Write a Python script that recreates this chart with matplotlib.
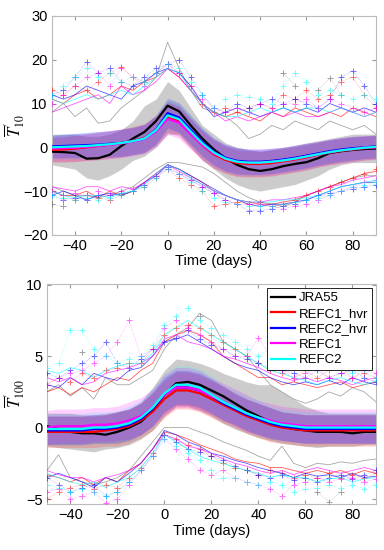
import numpy as np
import matplotlib
matplotlib.use("Agg")
import matplotlib.pyplot as plt

plt.rcParams['font.family'] = ['Liberation Sans', 'DejaVu Sans']
plt.rcParams['mathtext.fontset'] = 'stix'

nan = np.nan
days = list(range(-50, 91, 5))

series_names = ['JRA55', 'REFC1_hvr', 'REFC2_hvr', 'REFC1', 'REFC2']
series_colors = ['#000000', '#ff0000', '#0000ff', '#ff00ff', '#00ffff']
xticks = [-40, -20, 0, 20, 40, 60, 80]

# ---------------- Top panel: T'_10 ----------------
t10_mean = {
    'JRA55':     [-1.0,-1.1,-1.3,-2.6,-2.5,-1.7,0.3,2.0,3.5,6.0,9.5,8.2,5.0,2.0,-0.5,-2.5,-4.0,-5.0,-5.4,-5.0,-4.3,-3.8,-3.4,-2.5,-1.3,-0.9,-0.6,-0.4,-0.3],
    'REFC1_hvr': [-0.6,-0.5,-0.3,0.0,0.3,0.6,1.0,1.5,2.1,3.9,7.0,6.0,3.2,0.5,-1.6,-2.9,-3.6,-3.8,-3.8,-3.6,-3.2,-2.8,-2.3,-1.7,-1.2,-0.8,-0.5,-0.2,0.0],
    'REFC2_hvr': [0.2,0.3,0.4,0.5,0.6,0.8,1.0,1.4,2.0,4.0,7.8,6.8,4.0,1.2,-1.0,-2.4,-3.1,-3.3,-3.3,-3.1,-2.8,-2.4,-1.9,-1.4,-0.9,-0.5,-0.2,0.0,0.2],
    'REFC1':     [-0.3,-0.2,-0.1,0.1,0.3,0.6,0.9,1.3,1.9,3.6,6.5,5.6,3.0,0.5,-1.4,-2.6,-3.3,-3.5,-3.5,-3.3,-3.0,-2.6,-2.1,-1.6,-1.1,-0.7,-0.4,-0.1,0.0],
    'REFC2':     [0.0,0.1,0.2,0.3,0.5,0.7,1.0,1.4,2.0,3.9,7.3,6.4,3.6,0.9,-1.2,-2.6,-3.3,-3.5,-3.5,-3.3,-3.0,-2.6,-2.1,-1.6,-1.1,-0.7,-0.4,-0.1,0.1],
}
t10_jra_hi = [3,3,3,2.5,2.5,3,4,6,9.5,11,15,13,9,5,3,1,0,-0.5,-1,-0.5,0,0.5,1,1.5,2,2.5,3,3,3]
t10_jra_lo = [-4,-4.5,-5,-7,-7.5,-6.5,-5,-3,-2,0,3,3,0,-3,-5,-7,-8.5,-9.5,-10,-9.5,-9,-8.5,-7.5,-6.5,-5,-4,-3.5,-3.5,-3.5]
t10_spread = {
    'REFC1_hvr': [2.8,2.9,3.0,3.0,3.1,3.1,3.2,3.2,3.3,3.4,3.5,3.5,3.4,3.3,3.2,3.1,3.1,3.0,3.0,3.0,2.9,2.9,2.9,2.8,2.8,2.8,2.8,2.7,2.7],
    'REFC2_hvr': [2.6,2.7,2.8,2.9,3.0,3.0,3.1,3.1,3.2,3.3,3.4,3.4,3.3,3.2,3.1,3.0,3.0,2.9,2.9,2.9,2.8,2.8,2.8,2.7,2.7,2.7,2.7,2.6,2.6],
    'REFC1':     [2.9,3.0,3.1,3.1,3.2,3.2,3.3,3.3,3.4,3.5,3.6,3.6,3.5,3.4,3.3,3.2,3.2,3.1,3.1,3.1,3.0,3.0,3.0,2.9,2.9,2.9,2.9,2.8,2.8],
    'REFC2':     [2.7,2.8,2.9,2.9,3.0,3.0,3.1,3.1,3.2,3.3,3.4,3.4,3.3,3.2,3.1,3.0,3.0,2.9,2.9,2.9,2.8,2.8,2.8,2.7,2.7,2.7,2.7,2.6,2.6],
}
t10_upper_line = {
    'JRA55':     [8,10,7,9,5.5,6,9,11,13,16,24,18,13,9,8,7,5,2,3,5,4,6,5,4,6,5,4,5,3],
    'REFC1_hvr': [11,10,12,13,11,12,14,13,15,16,18,16,13,10,8,7,8,7,6,8,7,9,8,7,8,7,9,8,7],
    'REFC2_hvr': [12,11,12,14,13,12,11,14,15,17,18,17,14,10,7,8,9,8,7,8,9,8,9,8,10,9,8,9,8],
    'REFC1':     [8,9,10,11,12,10,14,12,13,15,18,16,13,10,8,6,7,6,7,8,7,8,7,7,8,9,8,7,8],
    'REFC2':     [11,10,11,12,11,12,13,12,14,16,18,17,13,10,8,7,7,8,9,8,9,8,9,9,8,9,8,7,8],
}
t10_upper_plus = {
    'JRA55':     [nan,nan,nan,nan,nan,nan,nan,nan,nan,nan,nan,nan,nan,nan,nan,nan,nan,nan,nan,nan,17,14,nan,13,15.8,12,nan,nan,nan],
    'REFC1_hvr': [13,12,14,13,15,17,18.4,16,15,17,19,17,14,10,8,9,8,9,10,9,12,11,13,11,12,15,16,12,9],
    'REFC2_hvr': [12,13,16,19.5,17,18,15,14,16,18,19,20,16,12,9,8,10,9,10,11,10,11,10,9,11,16,17.5,14,10],
    'REFC1':     [10,12,14,16,17,14,18,16,14,17,19,17,14,11,9,8,9,8,10,9,10,10,11,9,11,10,9,8,9],
    'REFC2':     [12,14,16,18,16,17,15,16,15,17,19,18,15,12,9,11,12,11.5,11,10,14,17,15,12,13,12,11,12,11],
}
t10_lower_line = {
    'JRA55':     [-9,-10,-11,-11,-11.5,-11,-10,-9,-7,-5,-3.5,-3.5,-4,-4.5,-6,-8,-10,-11.5,-12.5,-13,-13.5,-12.5,-11,-10,-9,-8,-7,-6.5,-6.5],
    'REFC1_hvr': [-10,-11,-11,-10,-11.5,-10,-11,-10,-8,-6,-4,-5,-6.5,-8,-10,-11,-12,-12.5,-13,-13,-12.5,-12,-11,-10,-9,-8,-7,-6,-5.5],
    'REFC2_hvr': [-11,-10,-11,-12,-11,-10.5,-11,-10,-8,-6.5,-4,-5,-6.5,-8,-9.5,-11,-12,-13,-13.5,-13,-13,-12.5,-12,-11,-10,-9,-8.5,-8,-8],
    'REFC1':     [-9,-9.5,-10,-9,-9,-10,-9,-9.5,-8,-6,-4,-5.5,-7,-8.5,-10,-11,-12,-12.5,-12.5,-12,-12,-11.5,-11,-10,-9,-8.5,-7.5,-7,-6.5],
    'REFC2':     [-10,-11,-11.5,-11,-11,-11.5,-10.5,-10,-8.5,-6,-4,-5,-7,-8.5,-10,-11,-12,-12.5,-12.5,-12.5,-12,-12,-11.5,-11,-10,-9,-8.5,-8,-7.5],
}
t10_lower_plus = {
    'JRA55':     [-13,-13.5,nan,nan,nan,nan,nan,nan,nan,nan,nan,nan,nan,nan,nan,nan,nan,nan,nan,nan,nan,nan,nan,nan,nan,nan,nan,nan,nan],
    'REFC1_hvr': [-10,-11,-12,-11,-11.5,-12,-11,-10,-9,-7,-5,-7,-8.5,-10,-13.5,-13,-12.5,-13,-12.5,-13.5,-13,-12,-11,-10,-9,-8,-7,-6,-5],
    'REFC2_hvr': [-11,-12,-11.5,-12,-11,-11,-10.5,-10,-8.5,-6.5,-4.5,-6,-7.5,-9,-10.5,-12,-13,-14.5,-14.5,-14,-13.5,-13,-12,-11,-10.5,-10,-9.5,-9,-8.5],
    'REFC1':     [-10,-11,-10.5,-11,-10,-11,-10,-9.5,-8.5,-6.5,-5,-6,-7.5,-9,-10.5,-12,-13,-13,-13,-13.5,-14,-13.5,-13,-12,-11,-10,-9,-8,-7.5],
    'REFC2':     [-11,-11.5,-12,-11.5,-12,-11.5,-11,-10,-9,-7,-5,-6,-8,-10,-11.5,-12.5,-13,-13.5,-13.5,-13.5,-13,-12.5,-12,-11.5,-11,-10,-9,-8.5,-8],
}

# ---------------- Bottom panel: T'_100 ----------------
t100_mean = {
    'JRA55':     [0.1,-0.1,-0.3,-0.4,-0.4,-0.5,-0.3,0.0,0.4,1.2,2.3,3.1,3.2,3.0,2.6,2.2,1.7,1.2,0.8,0.4,0.1,-0.1,-0.2,-0.3,-0.3,-0.3,-0.4,-0.3,-0.3],
    'REFC1_hvr': [-0.3,-0.3,-0.3,-0.3,-0.3,-0.2,-0.1,0.1,0.5,1.1,2.0,2.6,2.6,2.4,2.0,1.6,1.2,0.8,0.5,0.2,0.0,-0.1,-0.2,-0.2,-0.2,-0.2,-0.2,-0.2,-0.2],
    'REFC2_hvr': [-0.2,-0.2,-0.2,-0.2,-0.1,-0.1,0.0,0.2,0.6,1.3,2.3,2.8,2.8,2.6,2.2,1.7,1.3,0.9,0.6,0.3,0.1,0.0,-0.1,-0.1,-0.1,-0.1,-0.1,-0.1,-0.1],
    'REFC1':     [0.0,0.1,0.1,0.1,0.2,0.2,0.3,0.5,0.8,1.4,2.3,2.8,2.8,2.6,2.2,1.8,1.4,1.0,0.7,0.5,0.3,0.2,0.1,0.1,0.1,0.1,0.1,0.1,0.1],
    'REFC2':     [-0.1,-0.1,-0.1,-0.1,0.0,0.0,0.1,0.3,0.7,1.4,2.4,3.0,3.0,2.8,2.3,1.8,1.4,1.0,0.7,0.4,0.2,0.1,0.0,0.0,0.0,0.0,0.0,0.0,0.0],
}
t100_jra_hi = [1.0,1.0,1.0,0.9,0.9,1.0,1.1,1.3,1.8,2.8,4.0,4.8,4.7,4.5,4.2,3.8,3.5,3.2,3.0,3.0,2.5,2.0,1.5,1.2,1.0,1.0,1.0,1.0,1.0]
t100_jra_lo = [-1.3,-1.4,-1.5,-1.6,-1.7,-1.5,-1.4,-1.2,-0.8,-0.2,0.8,1.5,1.5,1.2,0.8,0.3,-0.1,-0.4,-0.7,-0.9,-1.1,-1.2,-1.3,-1.4,-1.3,-1.3,-1.3,-1.2,-1.2]
t100_spread = {
    'REFC1_hvr': [1.1,1.1,1.1,1.1,1.1,1.1,1.2,1.2,1.2,1.3,1.3,1.3,1.3,1.3,1.3,1.3,1.2,1.2,1.2,1.2,1.1,1.1,1.1,1.1,1.1,1.1,1.1,1.1,1.1],
    'REFC2_hvr': [1.0,1.0,1.0,1.0,1.0,1.0,1.1,1.1,1.1,1.2,1.2,1.2,1.2,1.2,1.2,1.2,1.1,1.1,1.1,1.1,1.0,1.0,1.0,1.0,1.0,1.0,1.0,1.0,1.0],
    'REFC1':     [1.2,1.2,1.2,1.2,1.2,1.2,1.2,1.3,1.3,1.3,1.4,1.4,1.4,1.4,1.3,1.3,1.3,1.3,1.2,1.2,1.2,1.2,1.2,1.2,1.2,1.2,1.2,1.2,1.2],
    'REFC2':     [1.1,1.1,1.1,1.1,1.1,1.1,1.1,1.2,1.2,1.3,1.3,1.3,1.3,1.3,1.3,1.2,1.2,1.2,1.2,1.1,1.1,1.1,1.1,1.1,1.1,1.1,1.1,1.1,1.1],
}
t100_upper_line = {
    'JRA55':     [2.5,3.0,2.2,2.8,2.0,3.5,3.0,3.0,3.5,4.0,5.5,6.5,7.0,8.0,7.5,6.0,5.5,5.0,4.0,3.0,2.5,2.0,1.7,2.0,2.5,2.2,2.8,2.5,1.8],
    'REFC1_hvr': [2.5,2.8,2.3,2.8,2.5,3.0,3.5,3.3,4.0,4.5,6.0,6.5,6.8,6.5,6.0,5.0,4.5,4.0,3.5,3.5,3.0,3.2,3.0,2.8,3.0,3.2,2.8,3.0,3.2],
    'REFC2_hvr': [3.0,2.8,3.5,3.0,3.8,3.5,3.3,4.0,4.2,5.0,6.0,6.2,6.5,6.0,5.5,5.0,4.5,4.2,4.0,3.5,3.2,3.0,3.2,3.0,3.3,3.0,3.5,3.2,3.0],
    'REFC1':     [3.5,3.2,3.5,3.0,3.2,3.8,4.0,4.2,4.5,5.0,6.2,6.5,6.0,5.8,5.5,5.0,4.8,4.5,4.2,3.8,3.5,3.3,3.5,3.2,3.5,3.3,3.0,3.3,3.5],
    'REFC2':     [4.0,3.8,4.2,4.0,3.5,4.0,4.3,4.5,4.5,5.2,6.5,7.0,7.5,7.0,6.5,6.0,5.5,5.0,4.5,4.0,3.8,3.5,3.3,3.0,3.3,3.5,3.2,3.0,3.3],
}
t100_upper_plus = {
    'JRA55':     [nan,nan,nan,5.3,nan,nan,nan,nan,nan,nan,nan,nan,nan,7.8,nan,nan,nan,nan,nan,nan,nan,nan,nan,nan,nan,nan,nan,nan,nan],
    'REFC1_hvr': [3.0,3.5,3.2,3.8,3.5,4.0,4.2,4.5,4.5,5.5,6.5,7.0,7.2,7.0,6.5,6.0,5.5,5.0,4.5,4.0,3.8,3.5,4.0,3.5,4.0,4.2,3.5,3.8,3.5],
    'REFC2_hvr': [3.8,3.5,4.0,4.5,5.0,6.0,4.5,4.2,4.8,5.5,6.0,6.3,6.8,6.2,5.8,5.5,5.0,4.8,4.5,4.2,4.0,3.8,3.5,4.0,3.5,3.8,4.0,3.5,3.2],
    'REFC1':     [3.0,3.5,3.8,4.0,4.5,5.0,6.0,7.5,5.0,5.5,7.0,7.5,7.0,6.5,6.0,5.5,5.0,5.0,6.3,5.0,4.0,3.5,3.8,4.2,3.5,3.8,3.5,4.0,3.8],
    'REFC2':     [4.2,4.5,6.8,6.8,5.5,5.0,4.5,4.8,5.0,5.8,7.2,7.8,8.4,7.5,7.0,6.5,6.0,5.5,5.0,5.5,5.0,4.5,4.0,4.5,4.0,4.2,3.8,4.0,3.5],
}
t100_lower_line = {
    'JRA55':     [-3.0,-1.9,-3.5,-3.8,-4.0,-3.8,-3.5,-3.0,-2.0,-1.0,0.0,0.0,0.0,-0.3,-0.6,-1.0,-1.3,-1.6,-2.0,-2.3,-1.3,-2.5,-2.8,-2.5,-2.6,-2.4,-2.5,-2.3,-2.2],
    'REFC1_hvr': [-3.3,-3.5,-3.8,-3.5,-4.0,-3.5,-3.8,-3.0,-2.5,-1.5,-0.3,-0.5,-0.8,-1.2,-1.5,-1.8,-2.2,-2.4,-2.5,-2.8,-2.8,-3.0,-3.2,-3.0,-3.2,-3.0,-3.3,-3.0,-3.2],
    'REFC2_hvr': [-3.5,-3.2,-3.5,-3.8,-4.2,-3.5,-3.8,-3.2,-2.5,-1.5,-0.2,-0.5,-1.0,-1.3,-1.8,-2.0,-2.3,-2.5,-2.8,-3.0,-3.2,-3.5,-3.2,-3.4,-3.3,-3.5,-3.2,-3.5,-3.4],
    'REFC1':     [-3.0,-3.3,-3.5,-3.5,-3.8,-3.5,-3.3,-3.0,-2.5,-1.5,-0.5,-0.8,-1.3,-1.5,-1.8,-2.2,-2.5,-2.7,-3.0,-3.2,-3.0,-3.3,-3.0,-2.8,-3.0,-3.2,-3.0,-2.8,-3.0],
    'REFC2':     [-3.2,-3.5,-3.8,-4.0,-3.8,-4.2,-3.8,-3.5,-2.8,-1.8,-0.5,-1.0,-1.5,-2.0,-2.3,-2.5,-2.8,-3.0,-3.2,-3.5,-3.3,-3.5,-3.5,-3.8,-3.6,-3.5,-3.8,-3.6,-3.5],
}
t100_lower_plus = {
    'JRA55':     [nan,nan,nan,nan,nan,nan,nan,nan,nan,nan,nan,nan,nan,nan,nan,nan,nan,nan,nan,nan,nan,nan,nan,-4.5,-5.2,-4.5,nan,nan,nan],
    'REFC1_hvr': [-5.0,-4.5,-4.2,-4.0,-4.3,-4.0,-4.2,-3.5,-2.8,-1.8,-0.5,-0.8,-1.2,-1.5,-2.0,-2.5,-2.8,-3.0,-3.3,-3.0,-3.2,-3.5,-3.3,-3.5,-3.2,-3.5,-3.3,-3.5,-3.2],
    'REFC2_hvr': [-3.5,-4.0,-4.5,-4.2,-4.0,-4.8,-4.5,-3.8,-3.0,-2.0,-0.5,-1.0,-1.5,-1.7,-2.0,-2.3,-2.7,-3.0,-3.3,-3.5,-3.3,-3.7,-3.5,-3.8,-3.5,-3.3,-3.6,-3.3,-3.0],
    'REFC1':     [-4.5,-4.3,-5.0,-4.8,-4.5,-5.3,-5.0,-4.0,-3.0,-2.0,-0.8,-1.5,-2.2,-3.0,-3.3,-3.0,-3.5,-3.8,-4.0,-4.3,-4.8,-4.0,-3.8,-3.5,-3.8,-3.6,-3.5,-3.8,-3.6],
    'REFC2':     [-4.0,-4.2,-4.5,-4.3,-4.5,-4.8,-4.5,-3.8,-3.0,-2.0,-0.8,-1.3,-1.8,-2.3,-3.0,-3.5,-3.5,-3.8,-4.0,-3.8,-4.0,-4.5,-4.3,-4.2,-4.0,-4.2,-4.0,-4.3,-4.0],
}

model_names = series_names[1:]
band_order = ['REFC2', 'REFC1_hvr', 'REFC1', 'REFC2_hvr']
color_of = dict(zip(series_names, series_colors))


def draw_panel(ax, mean, jra_hi, jra_lo, spread, up_line, up_plus, lo_line, lo_plus,
               ylim, yticks, ylabel):
    x = np.array(days, dtype=float)
    # spread bands
    ax.fill_between(x, jra_lo, jra_hi, color='#bcbcbc', alpha=0.75, lw=0, zorder=1)
    for m in band_order:
        mu = np.array(mean[m]); sp = np.array(spread[m])
        ax.fill_between(x, mu - sp, mu + sp, color=color_of[m], alpha=0.18, lw=0, zorder=2)
    # extreme thin lines and plus-marker series
    for s in series_names:
        c = '#777777' if s == 'JRA55' else color_of[s]
        for arr in (up_line[s], lo_line[s]):
            ax.plot(x, arr, color=c, lw=0.6, alpha=0.65, zorder=3)
        cp = '#555555' if s == 'JRA55' else color_of[s]
        for arr in (up_plus[s], lo_plus[s]):
            ax.plot(x, arr, color=cp, lw=0.4, ls=':', marker='+', ms=4, mew=0.7,
                    alpha=0.55, zorder=3)
    # means
    for s in series_names:
        ax.plot(x, mean[s], color=color_of[s], lw=1.6, zorder=5, label=s)
    ax.set_xlim(-50, 90)
    ax.set_ylim(*ylim)
    ax.set_xticks(xticks)
    ax.set_yticks(yticks)
    ax.set_xlabel('Time (days)', fontsize=10.5, labelpad=1)
    ax.set_ylabel(ylabel, fontsize=12, labelpad=0)
    ax.tick_params(direction='in', top=True, right=True, labelsize=10.5,
                   length=3, color='#999999', pad=3)
    for sp in ax.spines.values():
        sp.set_color('#bbbbbb')
        sp.set_linewidth(0.8)


fig = plt.figure(figsize=(3.84, 5.5), dpi=100)
ax1 = fig.add_axes([0.135, 0.573, 0.844, 0.398])
ax2 = fig.add_axes([0.122, 0.0836, 0.857, 0.40])

draw_panel(ax1, t10_mean, t10_jra_hi, t10_jra_lo, t10_spread,
           t10_upper_line, t10_upper_plus, t10_lower_line, t10_lower_plus,
           (-20, 30), [-20, -10, 0, 10, 20, 30], r"$\overline{T}^{\,\prime}_{10}$")
draw_panel(ax2, t100_mean, t100_jra_hi, t100_jra_lo, t100_spread,
           t100_upper_line, t100_upper_plus, t100_lower_line, t100_lower_plus,
           (-5.35, 10.05), [-5, 0, 5, 10], r"$\overline{T}^{\,\prime}_{100}$")
ax1.yaxis.set_label_coords(-0.077, 0.5)
ax2.yaxis.set_label_coords(-0.061, 0.5)

leg = ax2.legend(loc='upper right', fontsize=9.5, frameon=True, fancybox=False,
                 edgecolor='black', framealpha=1, borderaxespad=0.3, borderpad=0.3,
                 handlelength=1.8, handletextpad=0.3, labelspacing=0.25)
leg.get_frame().set_linewidth(0.6)
leg.set_zorder(10)

fig.savefig('out.png', dpi=100)
